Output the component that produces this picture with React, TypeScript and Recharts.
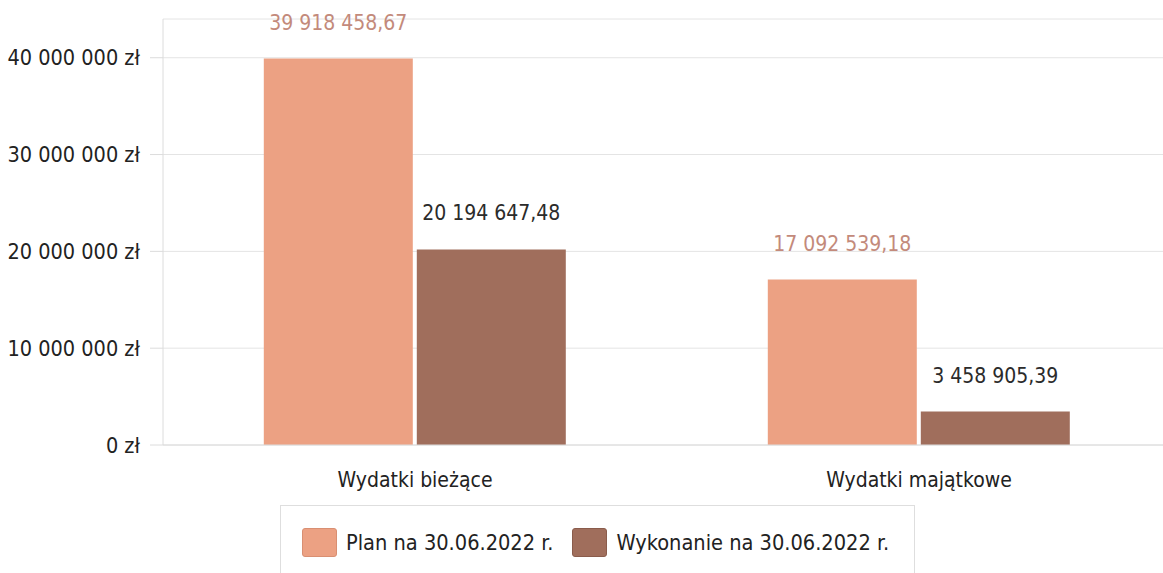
import React from 'react'
import { BarChart, Bar, XAxis, YAxis, CartesianGrid, LabelList } from 'recharts'

const categories = ['Wydatki bieżące', 'Wydatki majątkowe']
const planValues = [39918458.67, 17092539.18]
const wykonanieValues = [20194647.48, 3458905.39]
const yTicks = [0, 10000000, 20000000, 30000000, 40000000]
const seriesNames = ['Plan na 30.06.2022 r.', 'Wykonanie na 30.06.2022 r.']

const data = categories.map((name, i) => ({
  name,
  plan: planValues[i],
  wykonanie: wykonanieValues[i],
}))

const FONT = "'DejaVu Sans Condensed', 'DejaVu Sans', sans-serif"
const PLAN_COLOR = '#eca183'
const WYK_COLOR = '#a06e5c'

// 1234567.8 -> "1 234 567,80"
const groupDigits = (s: string) => s.replace(/\B(?=(\d{3})+(?!\d))/g, ' ')
const fmtValue = (v: number) => {
  const [int, dec] = v.toFixed(2).split('.')
  return groupDigits(int) + ',' + dec
}
const fmtTick = (v: number) => groupDigits(String(v)) + ' zł'

const makeLabel = (color: string) => (props: any) => {
  const { x, y, width, value } = props
  return (
    <text
      x={x + width / 2}
      y={y - 36}
      textAnchor="middle"
      dominantBaseline="central"
      fill={color}
      fontSize={21}
      fontFamily={FONT}
    >
      {fmtValue(value)}
    </text>
  )
}

function Swatch({ color, border }: { color: string; border: string }) {
  return (
    <span
      style={{
        display: 'inline-block',
        width: 35,
        height: 29,
        background: color,
        border: '1px solid ' + border,
        borderRadius: 3,
        boxSizing: 'border-box',
      }}
    />
  )
}

export default function App() {
  return (
    <div
      style={{
        position: 'absolute',
        left: 0,
        top: 0,
        width: 1163,
        height: 573,
        overflow: 'hidden',
        background: '#fff',
        fontFamily: FONT,
      }}
    >
      <BarChart
        width={1181}
        height={573}
        data={data}
        margin={{ top: 19, right: 10, left: 0, bottom: 68 }}
        barCategoryGap="20%"
        barGap={4}
      >
        <CartesianGrid vertical={false} stroke="#e4e4e4" />
        <XAxis
          dataKey="name"
          height={60}
          axisLine={{ stroke: '#dcdcdc' }}
          tickLine={false}
          tickSize={0}
          tickMargin={27}
          tick={{ fill: '#222', fontSize: 21, fontFamily: FONT }}
        />
        <YAxis
          width={163}
          domain={[0, 44000000]}
          ticks={yTicks}
          tickFormatter={fmtTick}
          axisLine={{ stroke: '#dcdcdc' }}
          tickLine={{ stroke: '#dcdcdc' }}
          tickSize={13}
          tickMargin={10}
          tick={{ fill: '#222', fontSize: 21.5, fontFamily: FONT }}
        />
        <Bar dataKey="plan" name={seriesNames[0]} fill={PLAN_COLOR} isAnimationActive={false}>
          <LabelList dataKey="plan" content={makeLabel('#c38a7b')} />
        </Bar>
        <Bar dataKey="wykonanie" name={seriesNames[1]} fill={WYK_COLOR} isAnimationActive={false}>
          <LabelList dataKey="wykonanie" content={makeLabel('#2b2b2b')} />
        </Bar>
      </BarChart>
      <div
        style={{
          position: 'absolute',
          left: 280,
          top: 505,
          width: 635,
          height: 80,
          border: '1px solid #dedede',
          boxSizing: 'border-box',
          display: 'flex',
          alignItems: 'flex-start',
          paddingTop: 22,
          paddingLeft: 21,
          fontSize: 21.6,
          color: '#222',
        }}
      >
        <Swatch color={PLAN_COLOR} border="#d98f72" />
        <span style={{ marginLeft: 9, marginRight: 19, lineHeight: '29px' }}>{seriesNames[0]}</span>
        <Swatch color={WYK_COLOR} border="#8a5c4c" />
        <span style={{ marginLeft: 9, lineHeight: '29px' }}>{seriesNames[1]}</span>
      </div>
    </div>
  )
}
